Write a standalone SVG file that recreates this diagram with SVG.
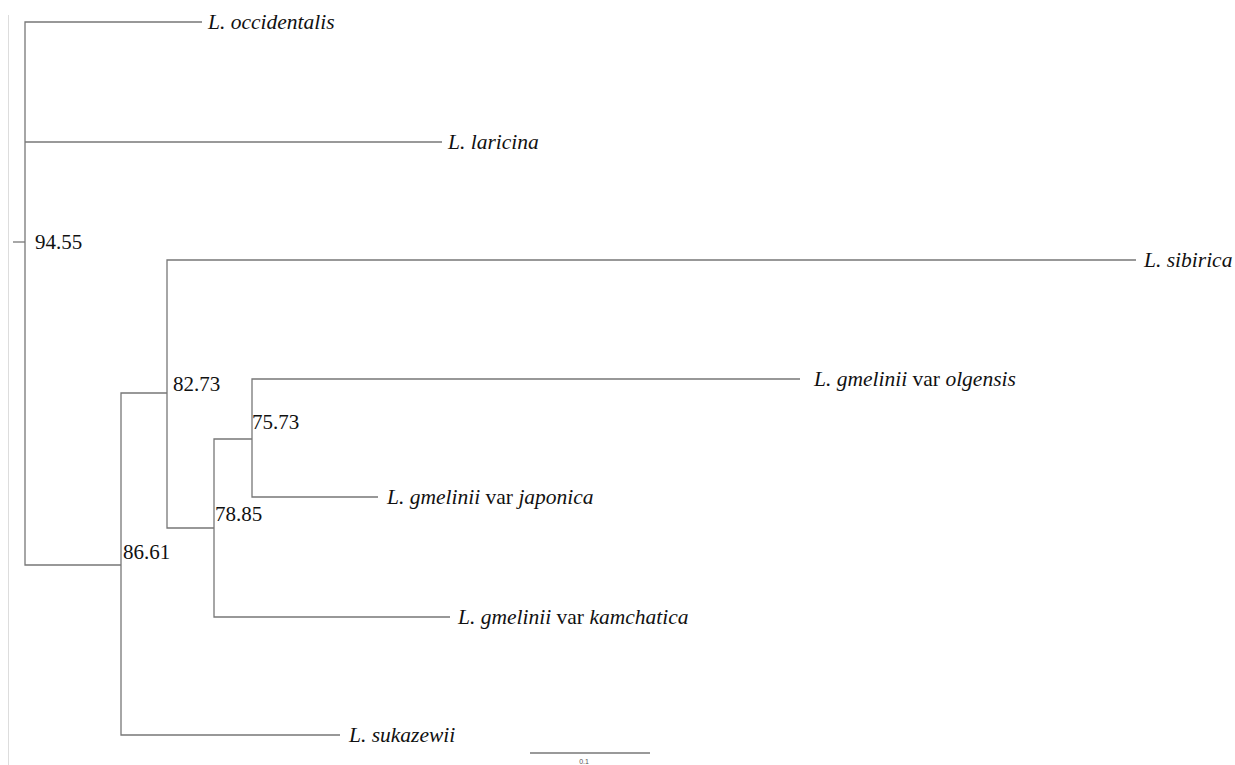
<svg xmlns="http://www.w3.org/2000/svg" width="1235" height="765" viewBox="0 0 1235 765">
<style>
.br{stroke:#777;stroke-width:1.3;fill:none}
.lab{font-family:"Liberation Serif",serif;font-size:21px;fill:#111}
.tx{font-family:"Liberation Serif",serif;font-size:21.5px;fill:#111;font-style:italic}
.up{font-style:normal}
</style>
<rect width="1235" height="765" fill="#fff"/>
<line x1="8.5" y1="15" x2="8.5" y2="765" stroke="#ddd" stroke-width="1"/>
<g id="connectors" class="br">
<path d="M13 242H25"/>
<path d="M202 22H25V565H121"/>
<path d="M25 142H442"/>
<path d="M340 735H121V393H167"/>
<path d="M1136 260H167V528H214"/>
<path d="M450 617H214V439H252"/>
<path d="M800 379H252V497H378"/>
<path d="M530 753H650"/>
</g>
<g id="n-occidentalis"><text class="tx" x="208" y="29">L. occidentalis</text></g>
<g id="n-laricina"><text class="tx" x="448" y="149">L. laricina</text></g>
<g id="n-sibirica"><text class="tx" x="1144" y="267">L. sibirica</text></g>
<g id="n-olgensis"><text class="tx" x="814" y="386">L. gmelinii<tspan class="up"> var </tspan>olgensis</text></g>
<g id="n-japonica"><text class="tx" x="387" y="504">L. gmelinii<tspan class="up"> var </tspan>japonica</text></g>
<g id="n-kamchatica"><text class="tx" x="458" y="624">L. gmelinii<tspan class="up"> var </tspan>kamchatica</text></g>
<g id="n-sukazewii"><text class="tx" x="349" y="742">L. sukazewii</text></g>
<g id="support">
<text class="lab" x="35" y="249">94.55</text>
<text class="lab" x="173" y="391">82.73</text>
<text class="lab" x="252" y="429">75.73</text>
<text class="lab" x="215" y="521">78.85</text>
<text class="lab" x="123" y="559">86.61</text>
</g>
<g id="scale"><text x="584" y="764" font-family="Liberation Sans,sans-serif" font-size="7" fill="#555" text-anchor="middle">0.1</text></g>
</svg>
